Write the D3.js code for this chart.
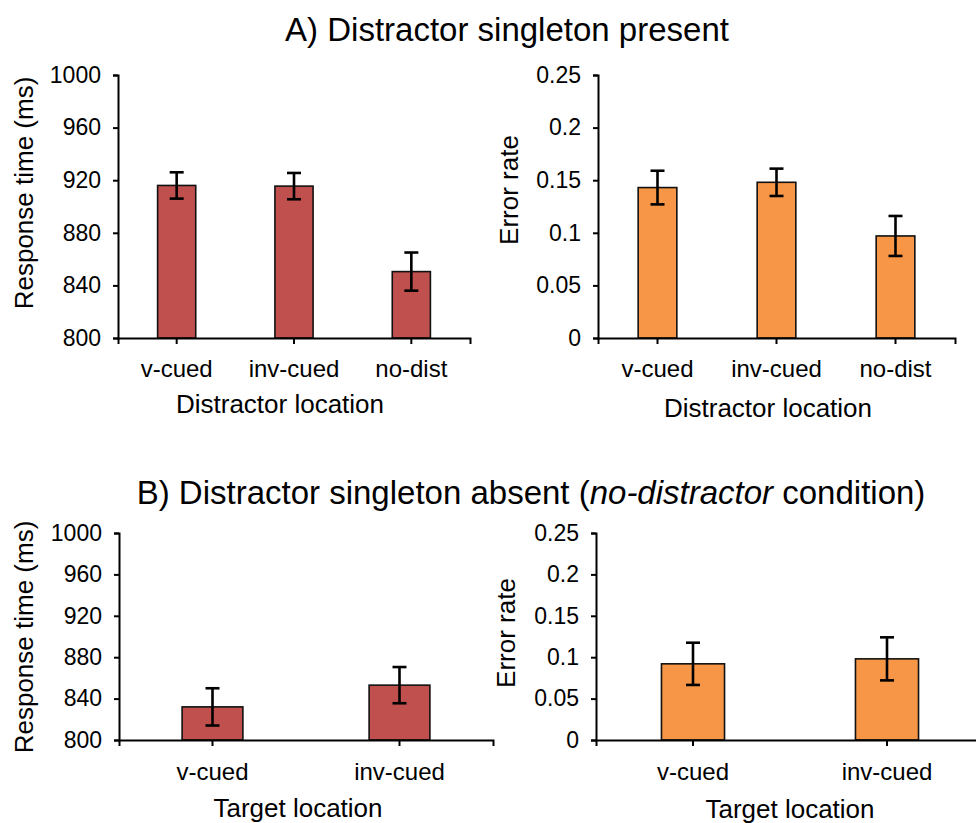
<!DOCTYPE html>
<html>
<head>
<meta charset="utf-8">
<script src="https://cdn.jsdelivr.net/npm/d3@7"></script>
<style>
  html, body { margin: 0; padding: 0; background: #fff; }
  svg { display: block; }
  text { font-family: "Liberation Sans", Arial, Helvetica, sans-serif; fill: #000; }
</style>
</head>
<body>
<svg id="chart" width="976" height="823"></svg>
<script>
// ---- data ----
const catsPresent = ["v-cued", "inv-cued", "no-dist"];
const rtPresent = [916, 915.5, 850.5];
const rtPresentErr = [10, 10, 14.5];
const erPresent = [0.143, 0.148, 0.097];
const erPresentErr = [0.016, 0.013, 0.019];

const catsAbsent = ["v-cued", "inv-cued"];
const rtAbsent = [832, 853];
const rtAbsentErr = [18, 17.5];
const erAbsent = [0.092, 0.098];
const erAbsentErr = [0.0255, 0.026];

const rtTicks = [800, 840, 880, 920, 960, 1000];
const erTicks = [0, 0.05, 0.1, 0.15, 0.2, 0.25];

const titleA = "A) Distractor singleton present";
const titleBparts = [
  { t: "B) Distractor singleton absent (", italic: false },
  { t: "no-distractor", italic: true },
  { t: " condition)", italic: false }
];

const RED = "#c0504d";
const ORANGE = "#f79646";

// ---- layout ----
const panels = [
  { cats: catsPresent, vals: rtPresent, errs: rtPresentErr, domain: [800, 1000], ticks: rtTicks,
    x0: 118, x1: 470, yTop: 75, yBot: 338, color: RED,
    ylabel: "Response time (ms)", ylx: 33, yly: 193,
    xlabel: "Distractor location", xlx: 280, xly: 413, tickPad: 16 },
  { cats: catsPresent, vals: erPresent, errs: erPresentErr, domain: [0, 0.25], ticks: erTicks,
    x0: 598, x1: 955, yTop: 75, yBot: 338, color: ORANGE,
    ylabel: "Error rate", ylx: 518, yly: 190,
    xlabel: "Distractor location", xlx: 768, xly: 417, tickPad: 16 },
  { cats: catsAbsent, vals: rtAbsent, errs: rtAbsentErr, domain: [800, 1000], ticks: rtTicks,
    x0: 119, x1: 493, yTop: 533, yBot: 740, color: RED,
    ylabel: "Response time (ms)", ylx: 33, yly: 637,
    xlabel: "Target location", xlx: 298, xly: 817, tickPad: 17 },
  { cats: catsAbsent, vals: erAbsent, errs: erAbsentErr, domain: [0, 0.25], ticks: erTicks,
    x0: 596, x1: 984, yTop: 533, yBot: 740, color: ORANGE,
    ylabel: "Error rate", ylx: 515, yly: 633,
    xlabel: "Target location", xlx: 790, xly: 818, tickPad: 17 }
];

const svg = d3.select("#chart");

// Titles
svg.append("text")
  .attr("x", 507).attr("y", 41)
  .attr("text-anchor", "middle")
  .style("font-size", "33px")
  .text(titleA);

const tB = svg.append("text")
  .attr("x", 531).attr("y", 504)
  .attr("text-anchor", "middle")
  .style("font-size", "33px");
titleBparts.forEach(p => {
  tB.append("tspan").text(p.t).style("font-style", p.italic ? "italic" : "normal");
});

panels.forEach(p => {
  const g = svg.append("g");
  const x = d3.scaleBand().domain(p.cats).range([p.x0, p.x1]).padding(0);
  const y = d3.scaleLinear().domain(p.domain).range([p.yBot, p.yTop]);
  const bw = x.bandwidth() * 0.325;

  // bars
  g.selectAll("rect.bar").data(p.cats).join("rect")
    .attr("class", "bar")
    .attr("x", d => x(d) + x.bandwidth() / 2 - bw / 2)
    .attr("width", bw)
    .attr("y", (d, i) => y(p.vals[i]))
    .attr("height", (d, i) => y(p.domain[0]) - y(p.vals[i]))
    .attr("fill", p.color)
    .attr("stroke", "#111")
    .attr("stroke-width", 1.6);

  // y axis
  const yAxis = d3.axisLeft(y).tickValues(p.ticks).tickSize(5).tickPadding(12)
    .tickFormat(d => String(d));
  const ya = g.append("g").attr("transform", `translate(${p.x0},0)`).call(yAxis);
  ya.select(".domain").attr("stroke", "#000").attr("stroke-width", 2);
  ya.selectAll(".tick line").attr("stroke", "#000").attr("stroke-width", 2);
  ya.selectAll(".tick text").style("font-size", "23px").style("font-family", "'Liberation Sans', Arial, sans-serif").attr("fill", "#000");

  // x axis
  const xAxis = d3.axisBottom(x).tickSize(6).tickPadding(p.tickPad);
  const xa = g.append("g").attr("transform", `translate(0,${p.yBot})`).call(xAxis);
  xa.select(".domain").attr("stroke", "#000").attr("stroke-width", 2);
  xa.selectAll(".tick line").attr("stroke", "#000").attr("stroke-width", 2);
  xa.selectAll(".tick text").style("font-size", "24px").style("font-family", "'Liberation Sans', Arial, sans-serif").attr("fill", "#000");

  // error bars
  const cap = 7;
  const eb = g.selectAll("g.err").data(p.cats).join("g").attr("class", "err");
  eb.append("line")
    .attr("x1", d => x(d) + x.bandwidth() / 2).attr("x2", d => x(d) + x.bandwidth() / 2)
    .attr("y1", (d, i) => y(p.vals[i] + p.errs[i]))
    .attr("y2", (d, i) => y(p.vals[i] - p.errs[i]));
  eb.append("line")
    .attr("x1", d => x(d) + x.bandwidth() / 2 - cap).attr("x2", d => x(d) + x.bandwidth() / 2 + cap)
    .attr("y1", (d, i) => y(p.vals[i] + p.errs[i]))
    .attr("y2", (d, i) => y(p.vals[i] + p.errs[i]));
  eb.append("line")
    .attr("x1", d => x(d) + x.bandwidth() / 2 - cap).attr("x2", d => x(d) + x.bandwidth() / 2 + cap)
    .attr("y1", (d, i) => y(p.vals[i] - p.errs[i]))
    .attr("y2", (d, i) => y(p.vals[i] - p.errs[i]));
  eb.selectAll("line").attr("stroke", "#000").attr("stroke-width", 2.6);

  // axis titles
  g.append("text")
    .attr("transform", `translate(${p.ylx},${p.yly}) rotate(-90)`)
    .attr("text-anchor", "middle")
    .style("font-size", "26px")
    .text(p.ylabel);
  g.append("text")
    .attr("x", p.xlx).attr("y", p.xly)
    .attr("text-anchor", "middle")
    .style("font-size", "26px")
    .text(p.xlabel);
});
</script>
</body>
</html>
